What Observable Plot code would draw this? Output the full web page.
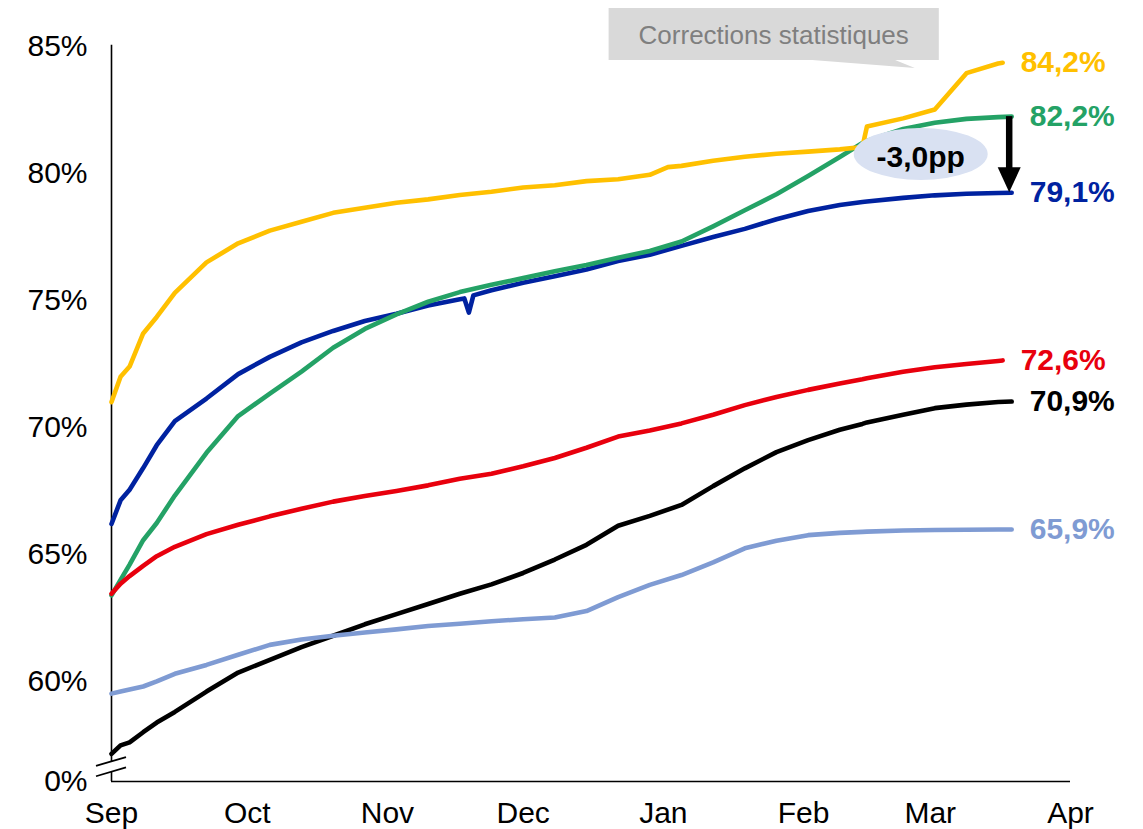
<!DOCTYPE html>
<html>
<head>
<meta charset="utf-8">
<script src="https://cdn.jsdelivr.net/npm/d3@7"></script>
<script src="https://cdn.jsdelivr.net/npm/@observablehq/plot@0.6"></script>
<style>
  body { margin: 0; background: #fff; }
  svg { display: block; }
</style>
</head>
<body>
<div id="chart"></div>
<script>
// ---------- DATA ----------
const dates = [
  "2021-09-01","2021-09-03","2021-09-05","2021-09-08","2021-09-11","2021-09-15",
  "2021-09-22","2021-09-29","2021-10-06","2021-10-13","2021-10-20","2021-10-27",
  "2021-11-03","2021-11-10","2021-11-17","2021-11-24","2021-12-01","2021-12-08",
  "2021-12-15","2021-12-22","2021-12-29","2022-01-05","2022-01-12","2022-01-19",
  "2022-01-26","2022-02-02","2022-02-09","2022-02-14","2022-02-15","2022-02-23",
  "2022-03-02","2022-03-09","2022-03-16"
];
const yellowValues = [71.0,72.0,72.4,73.7,74.35,75.3,76.5,77.25,77.75,78.1,78.45,78.65,
  78.85,78.98,79.15,79.28,79.45,79.54,79.7,79.77,79.95,80.3,80.5,80.66,80.78,80.86,80.95,
  81.04,81.85,82.17,82.52,83.95,84.33];
const greenValues = [63.39,64.0,64.6,65.56,66.24,67.32,69.0,70.45,71.33,72.2,73.14,73.88,
  74.45,74.95,75.33,75.62,75.88,76.15,76.4,76.68,76.95,77.32,77.92,78.55,79.18,79.9,80.65,
  81.2,81.28,81.75,82.0,82.15,82.22];
const blueValues = [66.2,67.13,67.55,68.4,69.3,70.25,71.14,72.1,72.78,73.35,73.8,74.19,
  74.48,74.8,75.05,75.4,75.7,75.95,76.22,76.55,76.8,77.15,77.5,77.82,78.2,78.52,78.76,
  78.88,78.9,79.04,79.14,79.2,79.23];
const redValues = [63.45,63.85,64.15,64.55,64.93,65.3,65.8,66.17,66.5,66.8,67.08,67.3,
  67.5,67.72,67.98,68.18,68.47,68.8,69.2,69.64,69.88,70.16,70.5,70.88,71.2,71.48,71.73,
  71.9,71.94,72.19,72.37,72.5,72.62];
const blackValues = [57.15,57.48,57.6,58.0,58.38,58.8,59.6,60.35,60.85,61.35,61.8,62.25,
  62.65,63.05,63.45,63.82,64.27,64.8,65.38,66.13,66.52,66.95,67.69,68.39,69.03,69.5,69.91,
  70.14,70.2,70.5,70.76,70.9,71.0];
const lightBlueValues = [59.52,59.6,59.68,59.8,60.0,60.3,60.65,61.05,61.44,61.65,61.8,61.93,
  62.05,62.18,62.27,62.37,62.45,62.52,62.77,63.32,63.8,64.19,64.69,65.24,65.54,65.76,65.85,
  65.89,65.9,65.94,65.96,65.97,65.98];

// extra readings between grid dates
const yellowExtra = [["2022-01-02", 80.25]];
const blueExtra = [["2021-11-18", 75.08], ["2021-11-19", 74.52], ["2021-11-20", 75.2]];

// last point of each series
const endDates = {yellow: "2022-03-17", green: "2022-03-19", blue: "2022-03-19",
                  red: "2022-03-17", black: "2022-03-19", lightBlue: "2022-03-19"};
const endValues = {yellow: 84.36, green: 82.24, blue: 79.24, red: 72.64, black: 71.02, lightBlue: 65.98};
const endLabels = {yellow: "84,2%", green: "82,2%", blue: "79,1%", red: "72,6%", black: "70,9%", lightBlue: "65,9%"};

const monthTicks = ["2021-09-01","2021-10-01","2021-11-01","2021-12-01","2022-01-01","2022-02-01","2022-03-01","2022-04-01"];
const zeroPos = 56.06;            // where the "0%" tick sits on the broken axis
const yTicks = [zeroPos, 60, 65, 70, 75, 80, 85];
const gapText = "-3,0pp";
const calloutText = "Corrections statistiques";

// ---------- STYLE ----------
const colors = {yellow: "#FFC000", green: "#24A266", blue: "#0022A0", red: "#E8000D", black: "#000000", lightBlue: "#7F9BD3"};
const FONT = "'Liberation Sans', Arial, Helvetica, sans-serif";

// ---------- BUILD ----------
function rows(key, values, extra) {
  const r = dates.map((d, i) => ({date: new Date(d), value: values[i]}));
  for (const [d, v] of extra) r.push({date: new Date(d), value: v});
  r.push({date: new Date(endDates[key]), value: endValues[key]});
  r.sort((a, b) => a.date - b.date);
  return r;
}
const series = [
  {key: "black", data: rows("black", blackValues, [])},
  {key: "lightBlue", data: rows("lightBlue", lightBlueValues, [])},
  {key: "blue", data: rows("blue", blueValues, blueExtra)},
  {key: "green", data: rows("green", greenValues, [])},
  {key: "red", data: rows("red", redValues, [])},
  {key: "yellow", data: rows("yellow", yellowValues, yellowExtra)}
];
const labelRows = Object.keys(endLabels).map(k => ({
  key: k, date: new Date(endDates[k]), value: endValues[k], text: endLabels[k]
}));

const xStart = new Date(monthTicks[0]);
const xEnd = new Date(monthTicks[monthTicks.length - 1]);
const breakTop = 56.83, breakBottom = 56.42;

const chart = Plot.plot({
  width: 1143,
  height: 829,
  marginLeft: 111,
  marginRight: 73,
  marginTop: 46,
  marginBottom: 48,
  style: {fontFamily: FONT, fontSize: "30px", background: "#fff", overflow: "visible", color: "#000"},
  x: {type: "utc", domain: [xStart, xEnd], label: null},
  y: {domain: [zeroPos, 85], label: null},
  marks: [
    Plot.axisX({ticks: monthTicks.map(d => new Date(d)), tickFormat: d3.utcFormat("%b"),
      tickSize: 0, tickPadding: 20, fontSize: 30, label: null}),
    Plot.axisY({ticks: yTicks, tickFormat: d => d === zeroPos ? "0%" : d + "%",
      tickSize: 0, tickPadding: 24, fontSize: 30, label: null}),
    Plot.ruleY([zeroPos], {x1: () => xStart, x2: () => xEnd, stroke: "#000", strokeWidth: 1.6}),
    Plot.ruleX([[85.05, breakTop], [breakBottom, zeroPos]],
      {x: () => xStart, y1: d => d[0], y2: d => d[1], stroke: "#000", strokeWidth: 1.6}),
    ...series.map(s => Plot.line(s.data, {
      x: "date", y: "value", stroke: colors[s.key], strokeWidth: 4.6,
      strokeLinejoin: "round", strokeLinecap: "round"
    })),
    Plot.text(labelRows, {
      x: "date", y: "value", text: "text", fill: d => colors[d.key],
      dx: 18, textAnchor: "start", fontWeight: "bold", fontSize: 30
    })
  ]
});

// ---------- ANNOTATIONS (positioned through the plot's scales) ----------
const sx = chart.scale("x"), sy = chart.scale("y");
const svg = d3.select(chart);
const ax = sx.apply(xStart);

// axis break slashes
for (const b of [breakTop, breakBottom]) {
  const yb = sy.apply(b);
  svg.append("line").attr("x1", ax - 15).attr("y1", yb + 4.4).attr("x2", ax + 15).attr("y2", yb - 4.4)
    .attr("stroke", "#000").attr("stroke-width", 1.8);
}

// callout box
const cx0 = sx.apply(new Date("2021-12-20")), cx1 = sx.apply(new Date("2022-03-03"));
const cyTop = sy.apply(85) - 38, cyBot = sy.apply(85) + 14;
const callout = svg.append("g");
callout.append("polygon")
  .attr("points", `${cx1 - 133},${cyBot - 0.5} ${cx1 - 24},${cyBot + 8} ${cx1 - 45},${cyBot - 0.5}`)
  .attr("fill", "#D9D9D9");
callout.append("rect").attr("x", cx0).attr("y", cyTop).attr("width", cx1 - cx0).attr("height", cyBot - cyTop)
  .attr("fill", "#D9D9D9");
callout.append("text").attr("x", (cx0 + cx1) / 2).attr("y", (cyTop + cyBot) / 2 + 1)
  .attr("text-anchor", "middle").attr("dominant-baseline", "central")
  .attr("font-family", FONT).attr("font-size", 26).attr("fill", "#7F7F7F").text(calloutText);

// gap ellipse
const ex = sx.apply(new Date("2022-02-27")), ey = sy.apply(80.75);
svg.append("ellipse").attr("cx", ex).attr("cy", ey).attr("rx", 67).attr("ry", 26).attr("fill", "#D9E1F2");
svg.append("text").attr("x", ex).attr("y", ey + 3).attr("text-anchor", "middle").attr("dominant-baseline", "central")
  .attr("font-family", FONT).attr("font-size", 30).attr("font-weight", "bold").attr("fill", "#000").text(gapText);

// arrow from green end to blue end
const arX = sx.apply(new Date(endDates.green)) - 2;
const arTop = sy.apply(endValues.green), arTip = sy.apply(endValues.blue);
svg.append("line").attr("x1", arX).attr("x2", arX).attr("y1", arTop).attr("y2", arTip - 22)
  .attr("stroke", "#000").attr("stroke-width", 6.5);
svg.append("polygon")
  .attr("points", `${arX - 11.5},${arTip - 25} ${arX + 11.5},${arTip - 25} ${arX},${arTip}`)
  .attr("fill", "#000");

document.getElementById("chart").appendChild(chart);
</script>
</body>
</html>
